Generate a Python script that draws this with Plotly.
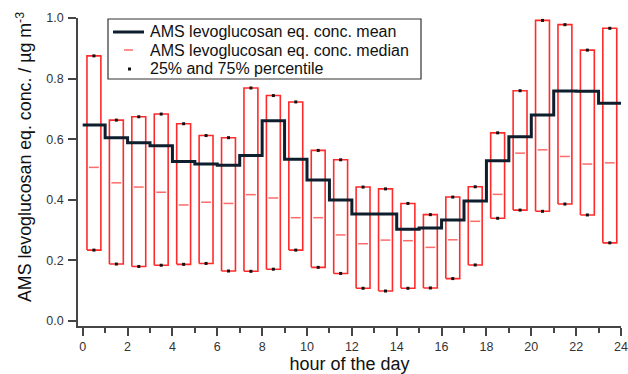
import plotly.graph_objects as go

# Diurnal statistics of AMS levoglucosan-equivalent concentration (µg m-3)
hours = list(range(24))
mean_conc = [0.647, 0.605, 0.588, 0.578, 0.526, 0.518, 0.514, 0.546, 0.661, 0.534,
             0.465, 0.399, 0.353, 0.353, 0.303, 0.307, 0.333, 0.396, 0.529, 0.608,
             0.680, 0.759, 0.758, 0.719]
median_conc = [0.507, 0.456, 0.442, 0.425, 0.383, 0.392, 0.388, 0.417, 0.406, 0.341,
               0.341, 0.284, 0.255, 0.267, 0.265, 0.243, 0.268, 0.329, 0.418, 0.554,
               0.565, 0.543, 0.518, 0.522]
p25_conc = [0.234, 0.188, 0.180, 0.184, 0.187, 0.190, 0.165, 0.164, 0.171, 0.234,
            0.177, 0.157, 0.108, 0.099, 0.108, 0.109, 0.140, 0.185, 0.339, 0.366,
            0.362, 0.386, 0.350, 0.258]
p75_conc = [0.875, 0.663, 0.674, 0.683, 0.651, 0.612, 0.605, 0.769, 0.744, 0.723,
            0.563, 0.532, 0.442, 0.436, 0.388, 0.351, 0.409, 0.443, 0.621, 0.760,
            0.992, 0.978, 0.894, 0.966]

x_ticks = list(range(0, 25, 2))
y_ticks = [0.0, 0.2, 0.4, 0.6, 0.8, 1.0]
legend_labels = ["AMS levoglucosan eq. conc. mean",
                 "AMS levoglucosan eq. conc. median",
                 "25% and 75% percentile"]
y_title = "AMS levoglucosan eq. conc. / µg m<sup>-3</sup>"

FONT = "Arial, 'Liberation Sans', Helvetica, sans-serif"
MEAN_COLOR = "#0e1e2c"
BOX_COLOR = "rgba(255,25,25,0.92)"
MEDIAN_COLOR = "rgba(255,80,80,0.85)"
BOX_HALF = 0.31
centers = [h + 0.5 for h in hours]

W, H = 628, 374
ML, MR, MT, MB = 78, 7, 18, 48
PW, PH = W - ML - MR, H - MT - MB


def px(x):
    return (x - ML) / PW


def py(y):
    return 1 - (y - MT) / PH


# interquartile boxes as closed rectangles, separated by gaps
box_x, box_y = [], []
for c, lo, hi in zip(centers, p25_conc, p75_conc):
    box_x += [c - BOX_HALF, c + BOX_HALF, c + BOX_HALF, c - BOX_HALF, c - BOX_HALF, None]
    box_y += [lo, lo, hi, hi, lo, None]

fig = go.Figure()

fig.add_trace(go.Scatter(
    x=box_x, y=box_y, mode="lines",
    line=dict(color=BOX_COLOR, width=1.6),
    showlegend=False, hoverinfo="skip",
))

# hourly mean as a step trace, last hour held to 24 h
fig.add_trace(go.Scatter(
    x=hours + [24], y=mean_conc + [mean_conc[-1]],
    mode="lines", line=dict(color=MEAN_COLOR, width=3, shape="hv"),
    name=legend_labels[0], showlegend=False,
))

fig.add_trace(go.Scatter(
    x=centers, y=median_conc, mode="markers",
    marker=dict(symbol="line-ew", size=7, color=MEDIAN_COLOR,
                line=dict(color=MEDIAN_COLOR, width=1.5)),
    name=legend_labels[1], showlegend=False,
))

fig.add_trace(go.Scatter(
    x=centers + centers, y=p25_conc + p75_conc, mode="markers",
    marker=dict(symbol="square", size=3, color="#111111", line=dict(width=0)),
    name=legend_labels[2], showlegend=False,
))

axis_common = dict(
    showline=True, linecolor="#454545", linewidth=1.5,
    ticks="outside", ticklen=8, tickwidth=1.5, tickcolor="#454545",
    showgrid=False, zeroline=False, automargin=False,
    tickfont=dict(family=FONT, size=12.5, color="#333333"),
)

fig.update_xaxes(
    range=[-0.21, 24], tickvals=x_ticks, ticklabelstandoff=0,
    minor=dict(dtick=1, ticks="outside", ticklen=5, tickwidth=1.5, tickcolor="#454545"),
    title=dict(text="hour of the day", font=dict(family=FONT, size=18, color="#111111"), standoff=12),
    **axis_common,
)
fig.update_yaxes(
    range=[-0.0165, 1.0], tickvals=y_ticks, tickformat=".1f", ticklabelstandoff=2,
    **axis_common,
)

# legend panel: frame, samples and labels
shapes = [
    dict(type="rect", xref="paper", yref="paper",
         x0=px(108), x1=px(421), y0=py(79), y1=py(19),
         line=dict(color="#333333", width=1.2), fillcolor="white", layer="above"),
    dict(type="line", xref="paper", yref="paper",
         x0=px(113), x1=px(144), y0=py(32), y1=py(32),
         line=dict(color=MEAN_COLOR, width=3), layer="above"),
    dict(type="line", xref="paper", yref="paper",
         x0=px(124), x1=px(133), y0=py(50), y1=py(50),
         line=dict(color=MEDIAN_COLOR, width=1.5), layer="above"),
    dict(type="rect", xref="paper", yref="paper",
         x0=px(128), x1=px(131), y0=py(70.5), y1=py(67.5),
         line=dict(width=0), fillcolor="#111111", layer="above"),
]
annotations = [
    dict(text=label, xref="paper", yref="paper", x=px(148), y=py(yc),
         xanchor="left", yanchor="middle", showarrow=False,
         font=dict(family=FONT, size=16, color="#111111"))
    for label, yc in zip(legend_labels, [32, 50, 68])
]
# vertical axis title, set slightly above the plot centre
annotations.append(dict(
    text=y_title, xref="paper", yref="paper", x=px(24), y=py(157),
    xanchor="center", yanchor="middle", textangle=-90, showarrow=False,
    font=dict(family=FONT, size=17.8, color="#111111"),
))

fig.update_layout(
    width=W, height=H,
    margin=dict(l=ML, r=MR, t=MT, b=MB),
    paper_bgcolor="white", plot_bgcolor="white",
    showlegend=False,
    shapes=shapes, annotations=annotations,
)

fig.write_html("out.html")
